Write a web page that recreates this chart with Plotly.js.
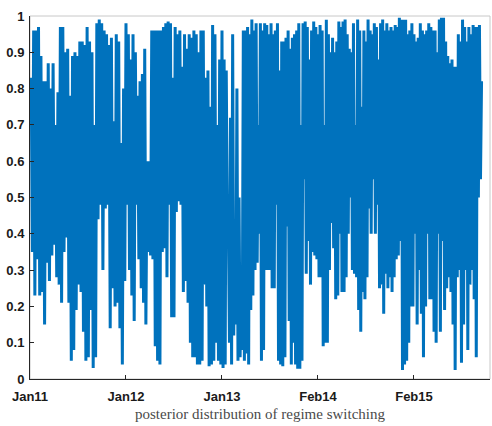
<!DOCTYPE html>
<html>
<head>
<meta charset="utf-8">
<script src="https://cdn.plot.ly/plotly-3.0.1.min.js"></script>
<style>html,body{margin:0;padding:0;background:#fff;}#chart{width:492px;height:426px;}</style>
</head>
<body>
<div id="chart"></div>
<script>
// Posterior probability, alternating local highs and lows
const seg2011 = [0.75,
 0.83,0.35, 0.96,0.23, 0.96,0.33, 0.97,0.23, 0.89,0.24, 0.82,0.15, 0.82,0.32, 0.87,0.27,
 0.80,0.34, 0.87,0.37, 0.70,0.28, 0.79,0.26, 0.97,0.21, 0.97,0.35, 0.90,0.39, 0.91,0.21,
 0.78,0.05, 0.89,0.08, 0.90,0.19, 0.89,0.26, 0.93,0.24, 0.93,0.13, 0.92,0.05, 0.97,0.06,
 0.93,0.19, 0.90,0.03, 0.70,0.06, 0.98,0.44, 0.99,0.48, 0.98,0.30, 0.96,0.47, 0.95,0.48,
 0.92,0.14, 0.94,0.25, 0.71,0.20, 0.95,0.21, 0.93,0.14, 0.65,0.04, 0.80,0.27];
const seg2012 = [
 0.98,0.48, 0.95,0.30, 0.88,0.23, 0.95,0.16, 0.90,0.48, 0.78,0.33, 0.82,0.25, 0.84,0.21,
 0.91,0.15, 0.60,0.35, 0.60,0.34, 0.96,0.33, 0.96,0.09, 0.96,0.05, 0.96,0.04, 0.96,0.35,
 0.97,0.36, 0.98,0.28, 0.985,0.48, 0.98,0.17, 0.83,0.17, 0.97,0.46, 0.95,0.49, 0.96,0.48,
 0.86,0.24, 0.95,0.27, 0.91,0.21, 0.95,0.10, 0.94,0.06, 0.96,0.06, 0.95,0.04, 0.90,0.04,
 0.96,0.05, 0.96,0.26, 0.83,0.20, 0.85,0.035, 0.75,0.04, 0.975,0.05, 0.95,0.10, 0.70,0.05,
 0.88,0.04];
const seg2013 = [
 0.96,0.03, 0.88,0.04, 0.85,0.44, 0.43,0.10, 0.72,0.04, 0.95,0.12, 0.40,0.15, 0.80,0.05,
 0.50,0.06, 0.30,0.08, 0.96,0.05, 0.96,0.07, 0.97,0.04, 0.95,0.19, 0.99,0.23, 0.96,0.30,
 0.98,0.32, 0.70,0.40, 0.98,0.05, 0.96,0.08, 0.98,0.30, 0.975,0.30, 0.95,0.30, 0.98,0.25,
 0.95,0.25, 0.96,0.48, 0.98,0.05, 0.85,0.04, 0.93,0.035, 0.93,0.06, 0.94,0.42, 0.96,0.16,
 0.91,0.04, 0.94,0.10, 0.95,0.04, 0.96,0.028, 0.98,0.028, 0.70,0.05, 0.98,0.55, 0.985,0.29,
 0.97,0.38, 0.88,0.26, 0.96,0.35, 0.985,0.34, 0.97,0.33];
const seg2014 = [
 0.95,0.28, 0.975,0.28, 0.96,0.09, 0.70,0.10, 0.99,0.10, 0.95,0.30, 0.90,0.43, 0.94,0.36,
 0.90,0.22, 0.93,0.23, 0.985,0.40, 0.97,0.24, 0.985,0.24, 0.99,0.28, 0.95,0.40, 0.91,0.50,
 0.90,0.30, 0.98,0.29, 0.70,0.28, 0.99,0.19, 0.96,0.13, 0.75,0.24, 0.96,0.22, 0.93,0.28,
 0.99,0.47, 0.96,0.40, 0.95,0.55, 0.98,0.40, 0.97,0.48, 0.88,0.25, 0.98,0.26, 0.99,0.18,
 0.96,0.29, 0.98,0.25, 0.96,0.28, 0.97,0.24, 0.96,0.28, 0.975,0.33, 0.97,0.34, 0.995,0.38,
 0.99,0.025, 0.99,0.04, 0.99,0.05, 0.95,0.10, 0.96,0.20, 0.98,0.20];
const seg2015 = [
 0.95,0.40, 0.93,0.15, 0.94,0.30, 0.98,0.18, 0.96,0.06, 0.95,0.20, 0.96,0.40, 0.98,0.22,
 0.97,0.22, 0.96,0.13, 0.96,0.10, 0.90,0.40, 0.99,0.13, 0.995,0.38, 0.995,0.19, 0.93,0.25,
 0.89,0.28, 0.87,0.24, 0.88,0.15, 0.86,0.025, 0.86,0.28, 0.95,0.30, 0.93,0.045, 0.99,0.15,
 0.97,0.30, 0.93,0.08, 0.97,0.26, 0.95,0.30, 0.975,0.22, 0.97,0.06, 0.97,0.50, 0.975,0.55,
 0.82];

const segments = [seg2011, seg2012, seg2013, seg2014, seg2015];
const obsPerSegment = [250, 250, 250, 250, 176];
const tickLabels = ['Jan11', 'Jan12', 'Jan13', 'Feb14', 'Feb15'];
const tickObs = [0, 250, 500, 750, 1000];
const axisEndObs = 1198;
const xTitle = 'posterior distribution of regime switching';

const xs = [], ys = [];
let start = 0;
segments.forEach((seg, k) => {
  const last = k === segments.length - 1;
  const step = last ? obsPerSegment[k] / (seg.length - 1) : obsPerSegment[k] / seg.length;
  seg.forEach((v, j) => { xs.push(start + j * step); ys.push(v); });
  start += obsPerSegment[k];
});

const tickFont = {family: 'Liberation Sans, Arial, sans-serif', size: 13, color: '#1a1a1a', weight: 'bold'};

Plotly.newPlot('chart', [{
  x: xs, y: ys, type: 'scatter', mode: 'lines',
  line: {color: '#0072BD', width: 3, shape: 'linear'},
  hoverinfo: 'skip'
}], {
  width: 492, height: 426,
  margin: {l: 30, r: 2, t: 16, b: 47},
  paper_bgcolor: '#ffffff', plot_bgcolor: '#ffffff',
  showlegend: false,
  xaxis: {
    range: [0, axisEndObs], tickvals: tickObs, ticktext: tickLabels,
    showgrid: false, zeroline: false, showline: true, linecolor: '#262626', linewidth: 1,
    ticks: 'inside', ticklen: 4, tickcolor: '#262626', tickfont: tickFont,
    ticklabelstandoff: 5,
    title: {text: xTitle, standoff: 5, font: {family: 'Liberation Serif, Times New Roman, serif', size: 15, color: '#4a4a4a'}}
  },
  yaxis: {
    range: [0, 1], dtick: 0.1, tick0: 0,
    showgrid: false, zeroline: false, showline: true, linecolor: '#262626', linewidth: 1,
    ticks: 'inside', ticklen: 4, tickcolor: '#262626', tickfont: tickFont,
    ticklabelstandoff: 2
  },
  shapes: [{type: 'rect', xref: 'paper', yref: 'paper', x0: 0, x1: 1, y0: 0, y1: 1,
    line: {color: '#c8c8c8', width: 1}, layer: 'below'}]
}, {staticPlot: true, displayModeBar: false});
</script>
</body>
</html>
